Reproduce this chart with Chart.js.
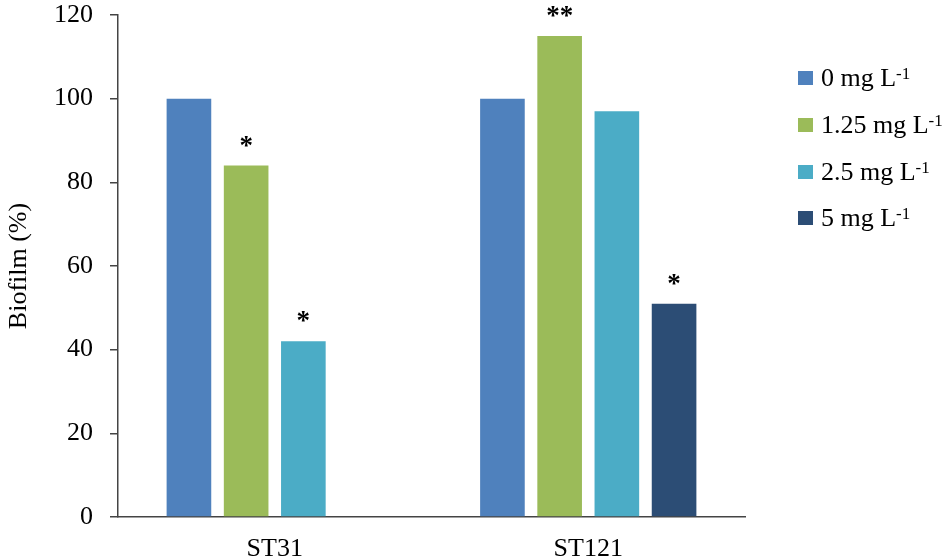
<!DOCTYPE html>
<html>
<head>
<meta charset="utf-8">
<script src="https://cdn.jsdelivr.net/npm/chart.js@4.4.1/dist/chart.umd.min.js"></script>
<style>
  body { margin: 0; background: #fff; }
  #wrap { position: relative; width: 950px; height: 560px; }
  #legend { position: absolute; left: 798px; top: 0; font-family: "Liberation Serif", "Times New Roman", serif; font-size: 26px; color: #000; }
  .item { position: absolute; left: 0; height: 30px; white-space: nowrap; display: flex; align-items: center; }
  .box { width: 15px; height: 14px; margin-right: 8px; }
  .item sup { font-size: 17px; position: relative; top: -4px; }
</style>
</head>
<body>
<div id="wrap">
  <canvas id="biofilmChart" width="950" height="560"></canvas>
  <div id="legend"></div>
</div>
<script>
const categories = ['ST31', 'ST121']
const conc0 = [100, 100]
const conc125 = [84, 115]
const conc25 = [42, 97]
const conc5 = [null, 51]
const marks0 = ['', '']
const marks125 = ['*', '**']
const marks25 = ['*', '']
const marks5 = ['', '*']
const seriesNames = ['0 mg L', '1.25 mg L', '2.5 mg L', '5 mg L']
const seriesColors = ['#4F81BD', '#9BBB59', '#4BACC6', '#2C4D75']
const yMin = 0, yMax = 120, yStep = 20

const font = { family: '"Liberation Serif", "Times New Roman", serif', size: 26 }

// asterisks above the bars
const starsPlugin = {
  id: 'stars',
  afterDatasetsDraw(chart) {
    const ctx = chart.ctx
    ctx.save()
    ctx.fillStyle = '#000'
    ctx.font = 'bold 27px "Liberation Serif", serif'
    ctx.textAlign = 'center'
    ctx.textBaseline = 'alphabetic'
    chart.data.datasets.forEach((ds, i) => {
      chart.getDatasetMeta(i).data.forEach((bar, j) => {
        const m = ds.marks[j]
        if (m && ds.data[j] != null) ctx.fillText(m, bar.x, bar.y - 12)
      })
    })
    ctx.restore()
  }
}

const series = [conc0, conc125, conc25, conc5]
const marks = [marks0, marks125, marks25, marks5]

const chart = new Chart(document.getElementById('biofilmChart').getContext('2d'), {
  type: 'bar',
  data: {
    labels: categories,
    datasets: series.map((d, i) => ({
      label: seriesNames[i] + '-1',
      data: d,
      marks: marks[i],
      backgroundColor: seriesColors[i],
      categoryPercentage: 0.73,
      barPercentage: 0.78
    }))
  },
  options: {
    responsive: false,
    animation: false,
    layout: { padding: { top: 0, right: 205, left: 0, bottom: 0 } },
    scales: {
      x: {
        grid: { display: false, drawTicks: false },
        border: { display: true, color: '#444', width: 1.5 },
        ticks: { font: font, color: '#000', padding: 17 },
        afterFit(s) { s.height = 43 }
      },
      y: {
        min: yMin,
        max: yMax,
        ticks: { stepSize: yStep, font: font, color: '#000', padding: 17 },
        grid: { drawOnChartArea: false, tickLength: 8, color: '#444', lineWidth: 1.5 },
        border: { color: '#444', width: 1.5 },
        title: { display: true, text: 'Biofilm (%)', font: font, color: '#000' },
        afterFit(s) {
          s.width = 118
          s.paddingTop = 15
        }
      }
    },
    plugins: {
      legend: { display: false },
      tooltip: { enabled: false }
    }
  },
  plugins: [starsPlugin]
})

// html legend so the "-1" can be a real superscript
const legend = document.getElementById('legend')
seriesNames.forEach((name, i) => {
  const row = document.createElement('div')
  row.className = 'item'
  row.style.top = (63 + i * 46.8) + 'px'
  row.innerHTML = '<span class="box" style="background:' + seriesColors[i] + '"></span>' +
    name + '<sup>-1</sup>'
  legend.appendChild(row)
})
</script>
</body>
</html>
